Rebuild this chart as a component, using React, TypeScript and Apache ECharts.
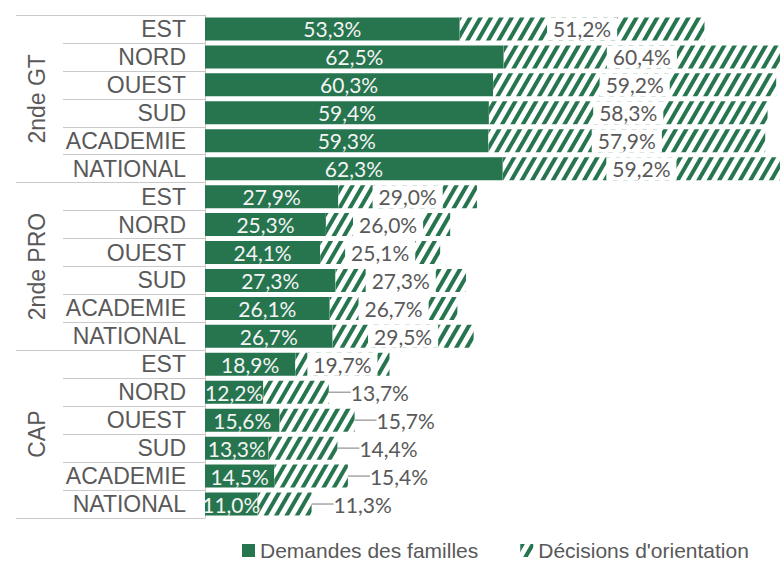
import React, { useEffect, useRef } from 'react';
import * as echarts from 'echarts';

const groups = ['2nde GT', '2nde PRO', 'CAP'];
const regions = ['EST', 'NORD', 'OUEST', 'SUD', 'ACADEMIE', 'NATIONAL'];
const demandes = [53.3, 62.5, 60.3, 59.4, 59.3, 62.3, 27.9, 25.3, 24.1, 27.3, 26.1, 26.7, 18.9, 12.2, 15.6, 13.3, 14.5, 11.0];
const decisions = [51.2, 60.4, 59.2, 58.3, 57.9, 59.2, 29.0, 26.0, 25.1, 27.3, 26.7, 29.5, 19.7, 13.7, 15.7, 14.4, 15.4, 11.3];
const outsideLabelRows = [13, 14, 15, 16, 17];
const seriesNames = ['Demandes des familles', "Décisions d'orientation"];

const GREEN = '#26754f';
const GRAY_TEXT = '#595959';
const LINE = '#c9c9c9';

const categories = groups.flatMap((g) => regions.map((r) => g + '|' + r));
const fmt = (v: number) => v.toFixed(1).replace('.', ',') + '%';

export default function App() {
  const ref = useRef<HTMLDivElement>(null);
  useEffect(() => {
    if (!ref.current) return;
    const chart = echarts.init(ref.current, undefined, { renderer: 'svg' });
    const decal = {
      symbol: 'rect',
      symbolSize: 1,
      dashArrayX: [1, 0],
      dashArrayY: [3.5, 4.5],
      rotation: -Math.PI / 3,
      color: GREEN,
    };
    chart.setOption({
      animation: false,
      grid: { left: 205, right: 0, top: 15, bottom: 43, containLabel: false },
      xAxis: { type: 'value', min: 0, max: 120.3, show: false },
      yAxis: [
        {
          type: 'category',
          data: categories,
          inverse: true,
          position: 'left',
          axisLine: { show: true, lineStyle: { color: LINE } },
          axisTick: { show: true, length: 142, interval: 0, lineStyle: { color: LINE } },
          axisLabel: {
            interval: 0,
            margin: 19,
            color: GRAY_TEXT,
            fontFamily: 'Liberation Sans, Arial',
            fontSize: 23,
            formatter: (v: string) => v.split('|')[1],
          },
          splitLine: { show: false },
        },
        {
          type: 'category',
          data: groups,
          inverse: true,
          position: 'left',
          axisLine: { show: false },
          axisTick: { show: true, length: 189, interval: 0, lineStyle: { color: LINE } },
          axisLabel: {
            interval: 0,
            rotate: 90,
            margin: 157,
            color: GRAY_TEXT,
            fontFamily: 'Liberation Sans, Arial',
            fontSize: 23,
          },
          splitLine: { show: false },
        },
      ],
      legend: {
        left: 242,
        top: 540,
        width: 560,
        padding: 0,
        itemWidth: 13,
        itemHeight: 13,
        itemGap: 42,
        icon: 'rect',
        textStyle: { color: GRAY_TEXT, fontFamily: 'Liberation Sans, Arial', fontSize: 21, lineHeight: 20 },
        data: seriesNames,
      },
      series: [
        {
          name: seriesNames[0],
          type: 'bar',
          stack: 'total',
          yAxisIndex: 0,
          barWidth: 23,
          itemStyle: { color: GREEN },
          label: {
            show: true,
            position: 'inside',
            color: '#f4f4f4',
            fontFamily: 'Lato',
            fontSize: 21,
            formatter: (p: any) => fmt(p.value),
          },
          data: demandes,
        },
        {
          name: seriesNames[1],
          type: 'bar',
          stack: 'total',
          yAxisIndex: 0,
          barWidth: 23,
          itemStyle: { color: '#ffffff', decal },
          label: {
            show: true,
            position: 'inside',
            color: GRAY_TEXT,
            backgroundColor: '#ffffff',
            padding: [1, 6],
            fontFamily: 'Lato',
            fontSize: 21,
            formatter: (p: any) => fmt(p.value),
          },
          labelLayout: (p: any) => (outsideLabelRows.includes(p.dataIndex) ? { dx: 18 } : {}),
          data: decisions.map((v, i) =>
            outsideLabelRows.includes(i)
              ? {
                  value: v,
                  label: { position: 'right', distance: 4, backgroundColor: 'transparent', padding: 0 },
                  labelLine: { show: true, lineStyle: { color: '#a6a6a6', width: 1.5 } },
                }
              : v
          ),
        },
      ],
    });
    return () => chart.dispose();
  }, []);
  return <div ref={ref} style={{ position: 'absolute', left: 0, top: 0, width: 780, height: 561 }} />;
}
